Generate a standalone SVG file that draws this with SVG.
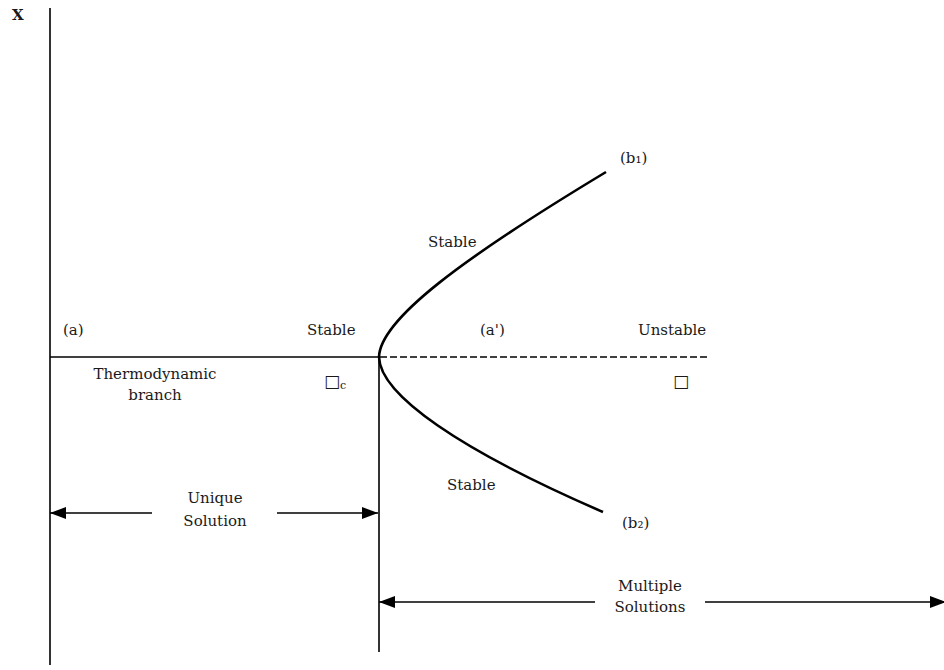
<svg xmlns="http://www.w3.org/2000/svg" width="944" height="670" viewBox="0 0 944 670">
<defs>
<marker id="ah" viewBox="0 0 16 12" refX="16" refY="6" markerWidth="16" markerHeight="12" markerUnits="userSpaceOnUse" orient="auto-start-reverse">
<path d="M0,0 L16,6 L0,12 Z" fill="#000"/>
</marker>
<style>
text{font-family:"DejaVu Serif","Liberation Serif",serif;font-size:15px;fill:#1a1a1a}
.ln{stroke:#000;stroke-width:1.6;fill:none}
.cv{stroke:#000;stroke-width:2.6;fill:none}
.ds{stroke:#000;stroke-width:1.6;stroke-dasharray:7 3;fill:none}
.c{text-anchor:middle}
.bx{font-family:"DejaVu Sans",sans-serif;font-size:17px}
</style>
</defs>
<rect width="944" height="670" fill="#fff"/>
<g id="connectors">
<line class="ln" x1="50" y1="8" x2="50" y2="665"/>
<line class="ln" x1="50" y1="357" x2="380" y2="357"/>
<line class="ds" x1="380" y1="357" x2="708" y2="357"/>
<line class="ln" x1="379" y1="357" x2="379" y2="652"/>
<path class="cv" d="M606,172 C460,260 380,320 379,357 C380,395 460,450 603,512"/>
<line class="ln" x1="152" y1="513" x2="50" y2="513" marker-end="url(#ah)"/>
<line class="ln" x1="277" y1="513" x2="378" y2="513" marker-end="url(#ah)"/>
<line class="ln" x1="595" y1="602" x2="379" y2="602" marker-end="url(#ah)"/>
<line class="ln" x1="705" y1="602" x2="946" y2="602" marker-end="url(#ah)"/>
</g>
<g id="axis-label"><text x="12" y="20" font-weight="bold">X</text></g>
<g id="b1"><text x="620" y="163">(b₁)</text></g>
<g id="stable-upper"><text x="428" y="247">Stable</text></g>
<g id="a"><text x="63" y="335">(a)</text></g>
<g id="stable-left"><text x="307" y="335">Stable</text></g>
<g id="a-prime"><text x="480" y="335">(a')</text></g>
<g id="unstable"><text x="638" y="335">Unstable</text></g>
<g id="thermo"><text class="c" x="155" y="379">Thermodynamic</text><text class="c" x="155" y="400">branch</text></g>
<g id="lambda-c"><text x="324" y="387"><tspan class="bx">□</tspan><tspan font-size="11" dy="2">c</tspan></text></g>
<g id="lambda"><text class="bx" x="673" y="387">□</text></g>
<g id="stable-lower"><text x="447" y="490">Stable</text></g>
<g id="unique"><text class="c" x="215" y="503">Unique</text><text class="c" x="215" y="526">Solution</text></g>
<g id="b2"><text x="622" y="528">(b₂)</text></g>
<g id="multiple"><text class="c" x="650" y="591">Multiple</text><text class="c" x="650" y="612">Solutions</text></g>
</svg>
